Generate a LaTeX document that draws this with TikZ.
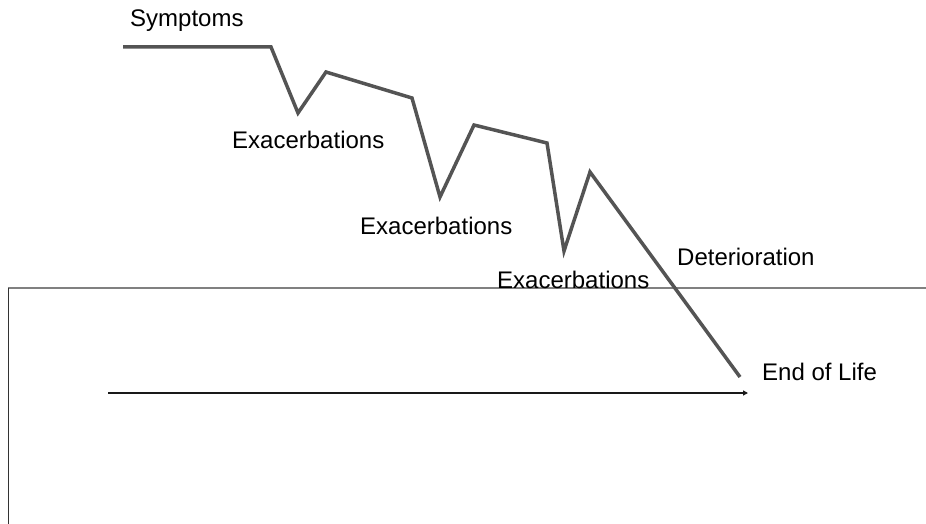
\documentclass[tikz,border=0pt]{standalone}
\usepackage{fontspec}
\setmainfont{Liberation Sans}
\usetikzlibrary{arrows.meta}

\tikzstyle{course} = [draw=black!67, line width=3.5pt, line join=miter]
\tikzstyle{stage} = [inner sep=0pt, anchor=base west, font=\fontsize{24}{28}\selectfont]
\tikzstyle{axisline} = [draw=black!50, line width=1.5pt]

\begin{document}
\begin{tikzpicture}[x=1pt, y=-1pt]
\useasboundingbox (0,0) rectangle (926,524);
% frame of the chart
\coordinate (hl) at (8,288);
\coordinate (hr) at (926,288);
\coordinate (vb) at (8,524);
\draw[axisline] (hl) -- (hr);
\draw[black!80, line width=1pt] (hl) -- (vb);
% time arrow
\coordinate (t0) at (108,393);
\coordinate (t1) at (748,393);
\draw[black!90, line width=1.5pt, -{Triangle[length=5pt,width=5pt]}] (t0) -- (t1);
% course of the illness
\coordinate (s0) at (123,47);
\coordinate (s1) at (271,47);
\coordinate (d1) at (298,113);
\coordinate (p1) at (326,72);
\coordinate (s2) at (412,98);
\coordinate (d2) at (440,197);
\coordinate (p2) at (474,125);
\coordinate (s3) at (547,143);
\coordinate (d3) at (564,251);
\coordinate (p3) at (590,172);
\coordinate (eol) at (740,377);
\draw[course] (s0) -- (s1) -- (d1) -- (p1) -- (s2) -- (d2) -- (p2) -- (s3) -- (d3) -- (p3) -- (eol);
% labels
\node[stage] (symptoms) at (130,27) {Symptoms};
\node[stage] (exa1) at (232,149) {Exacerbations};
\node[stage] (exa2) at (360,234) {Exacerbations};
\node[stage] (exa3) at (497,288) {Exacerbations};
\node[stage] (det) at (677,265) {Deterioration};
\node[stage] (end) at (762,380) {End of Life};
\end{tikzpicture}
\end{document}
